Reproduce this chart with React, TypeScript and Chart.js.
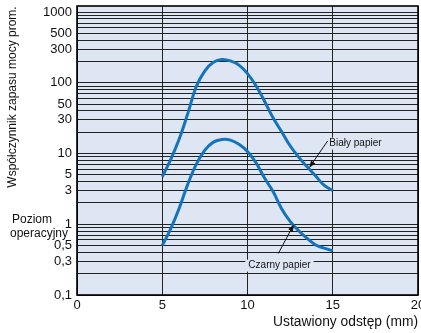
import React, { useEffect, useRef } from 'react';
import { Chart, registerables } from 'chart.js';

Chart.register(...registerables);

// ---- data ----
const gapMm = [5, 5.5, 6, 6.5, 7, 7.5, 8, 8.5, 9, 9.5, 10, 10.5, 11, 11.5, 12, 12.5, 13, 13.5, 14, 14.5, 15];
const whitePaper = [4.7, 8.3, 16.2, 37, 89, 148, 195, 214, 204, 178, 135, 91, 55, 32, 20.4, 12.9, 8.9, 6.5, 4.8, 3.55, 3.0];
const blackPaper = [0.5, 0.87, 1.7, 3.7, 7.1, 11.2, 14.5, 15.8, 15.5, 13.5, 10.7, 7.4, 4.5, 2.9, 1.66, 1.1, 0.81, 0.63, 0.51, 0.46, 0.42];

const xMin = 0;
const xMax = 20;
const xStep = 5;
const yMin = 0.1;
const yMax = 1220;
const yLabelVals = [0.1, 0.3, 0.5, 1, 3, 5, 10, 30, 50, 100, 300, 500, 1000];

const whiteLabel = 'Biały papier';
const blackLabel = 'Czarny papier';
// annotation anchors in data units: [labelX, labelY, arrowFromX, arrowFromY, arrowToX, arrowToY]
const whiteAnn = [14.8, 13.8, 14.7, 15.1, 13.62, 6.3];
const blackAnn = [10.05, 0.26, 11.81, 0.387, 12.72, 1.0];

const yTitle = 'Współczynnik zapasu mocy prom.';
const xTitle = 'Ustawiony odstęp (mm)';
const opLines = ['Poziom', 'operacyjny'];

const FONT = "'Liberation Sans', Arial, Helvetica, sans-serif";
const PLOT_BG = '#dfe6f3';
const CURVE = '#1474bb';

function buildYTicks() {
  const out: { value: number }[] = [];
  for (let e = -1; e <= 3; e++) {
    for (let m = 1; m <= 9; m++) {
      const v = Number((m * Math.pow(10, e)).toPrecision(3));
      if (v >= yMin && v <= yMax) out.push({ value: v });
    }
  }
  return out;
}

const decor = {
  id: 'decor',
  beforeDraw(chart: any) {
    const { ctx, chartArea: a } = chart;
    ctx.save();
    ctx.fillStyle = PLOT_BG;
    ctx.fillRect(a.left, a.top, a.right - a.left, a.bottom - a.top);
    ctx.restore();
  },
  afterDraw(chart: any) {
    const { ctx, chartArea: a, scales } = chart;
    const xs = scales.x;
    const ys = scales.y;
    ctx.save();
    ctx.strokeStyle = '#000';
    ctx.lineWidth = 1.6;
    ctx.strokeRect(a.left, a.top, a.right - a.left, a.bottom - a.top);

    const drawAnn = (ann: number[], label: string) => {
      const lx = xs.getPixelForValue(ann[0]);
      const ly = ys.getPixelForValue(ann[1]);
      ctx.font = `10px ${FONT}`;
      const w = ctx.measureText(label).width;
      ctx.fillStyle = PLOT_BG;
      ctx.fillRect(lx - 3, ly - 6, w + 6, 12);
      ctx.fillStyle = '#111';
      ctx.textAlign = 'left';
      ctx.textBaseline = 'middle';
      ctx.fillText(label, lx, ly);
      const x1 = xs.getPixelForValue(ann[2]);
      const y1 = ys.getPixelForValue(ann[3]);
      const x2 = xs.getPixelForValue(ann[4]);
      const y2 = ys.getPixelForValue(ann[5]);
      const ang = Math.atan2(y2 - y1, x2 - x1);
      const hl = 7;
      const hw = 2.6;
      ctx.strokeStyle = '#111';
      ctx.lineWidth = 1;
      ctx.beginPath();
      ctx.moveTo(x1, y1);
      ctx.lineTo(x2 - Math.cos(ang) * hl * 0.8, y2 - Math.sin(ang) * hl * 0.8);
      ctx.stroke();
      ctx.fillStyle = '#111';
      ctx.beginPath();
      ctx.moveTo(x2, y2);
      ctx.lineTo(x2 - Math.cos(ang) * hl - Math.sin(ang) * hw, y2 - Math.sin(ang) * hl + Math.cos(ang) * hw);
      ctx.lineTo(x2 - Math.cos(ang) * hl + Math.sin(ang) * hw, y2 - Math.sin(ang) * hl - Math.cos(ang) * hw);
      ctx.closePath();
      ctx.fill();
    };
    drawAnn(whiteAnn, whiteLabel);
    drawAnn(blackAnn, blackLabel);

    // y title
    ctx.fillStyle = '#111';
    ctx.save();
    ctx.translate(13, 97);
    ctx.rotate(-Math.PI / 2);
    ctx.font = `12px ${FONT}`;
    ctx.textAlign = 'center';
    ctx.textBaseline = 'middle';
    ctx.fillText(yTitle, 0, 0);
    ctx.restore();

    // operating level label
    ctx.font = `12px ${FONT}`;
    ctx.textAlign = 'left';
    ctx.textBaseline = 'middle';
    opLines.forEach((t, i) => {
      ctx.fillText(t, i === 0 ? 12 : 10, 220 + i * 14);
    });

    // x title
    ctx.font = `13.8px ${FONT}`;
    ctx.textAlign = 'right';
    ctx.textBaseline = 'middle';
    ctx.fillText(xTitle, a.right, 322);

    ctx.restore();
  },
};

export default function App() {
  const ref = useRef<HTMLCanvasElement | null>(null);
  useEffect(() => {
    document.body.style.margin = '0';
    if (!ref.current) return;
    const chart = new Chart(ref.current, {
      type: 'line',
      data: {
        datasets: [
          {
            label: whiteLabel,
            data: gapMm.map((x, i) => ({ x, y: whitePaper[i] })),
            borderColor: CURVE,
            borderWidth: 3,
            pointRadius: 0,
            tension: 0.4,
            fill: false,
          },
          {
            label: blackLabel,
            data: gapMm.map((x, i) => ({ x, y: blackPaper[i] })),
            borderColor: CURVE,
            borderWidth: 3,
            pointRadius: 0,
            tension: 0.4,
            fill: false,
          },
        ],
      },
      options: {
        responsive: false,
        animation: false,
        layout: { padding: { top: 6, right: 3, left: 0, bottom: 0 } },
        plugins: {
          legend: { display: false },
          tooltip: { enabled: false },
          title: { display: false },
        },
        scales: {
          x: {
            type: 'linear',
            min: xMin,
            max: xMax,
            ticks: {
              stepSize: xStep,
              padding: 3,
              color: '#111',
              font: { family: FONT, size: 13 },
              maxRotation: 0,
            },
            grid: { color: '#222', lineWidth: 1, drawTicks: false },
            border: { display: false },
            afterFit(s: any) {
              s.height = 38;
              s.paddingLeft = 0;
              s.paddingRight = 0;
            },
          },
          y: {
            type: 'logarithmic',
            min: yMin,
            max: yMax,
            afterBuildTicks(s: any) {
              s.ticks = buildYTicks();
            },
            ticks: {
              autoSkip: false,
              padding: 5,
              color: '#111',
              font: { family: FONT, size: 13 },
              callback: (v: any) => {
                const n = Number(v);
                const hit = yLabelVals.find((l) => Math.abs(l - n) / l < 1e-6);
                return hit !== undefined ? String(hit).replace('.', ',') : '';
              },
            },
            grid: { color: '#222', lineWidth: 1, drawTicks: false },
            border: { display: false },
            afterFit(s: any) {
              s.width = 77;
              s.paddingTop = 0;
              s.paddingBottom = 0;
            },
          },
        },
      },
      plugins: [decor],
    } as any);
    return () => chart.destroy();
  }, []);
  return (
    <div style={{ position: 'fixed', left: 0, top: 0, width: 421, height: 333 }}>
      <canvas ref={ref} width={421} height={333} style={{ display: 'block' }} />
    </div>
  );
}
